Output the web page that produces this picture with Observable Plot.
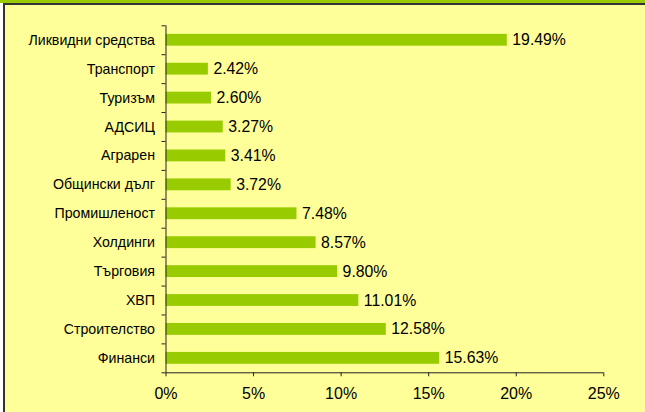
<!DOCTYPE html>
<html>
<head>
<meta charset="utf-8">
<script src="https://cdn.jsdelivr.net/npm/d3@7"></script>
<script src="https://cdn.jsdelivr.net/npm/@observablehq/plot@0.6"></script>
<style>
  html, body { margin: 0; padding: 0; background: #fff; }
  #wrap { position: relative; width: 645px; height: 412px; background: #FFFF99; overflow: hidden; font-family: "Liberation Sans", Arial, sans-serif; }
  #band { position: absolute; left: 0; top: 0; width: 645px; height: 3px; background: #99CC00; }
  #lstrip { position: absolute; left: 0; top: 3px; width: 3px; height: 409px; background: #fff; }
  #btop { position: absolute; left: 3px; top: 3px; width: 642px; height: 1.5px; background: #333; }
  #bleft { position: absolute; left: 3px; top: 3px; width: 1.5px; height: 409px; background: #333; }
  #chart { position: absolute; left: 0; top: 0; }
  #chart svg { background: transparent; }
</style>
</head>
<body>
<div id="wrap">
  <div id="band"></div><div id="lstrip"></div><div id="btop"></div><div id="bleft"></div>
  <div id="chart"></div>
</div>
<script>
const categories = ["Ликвидни средства", "Транспорт", "Туризъм", "АДСИЦ", "Аграрен", "Общински дълг", "Промишленост", "Холдинги", "Търговия", "ХВП", "Строителство", "Финанси"];
const values = [19.49, 2.42, 2.60, 3.27, 3.41, 3.72, 7.48, 8.57, 9.80, 11.01, 12.58, 15.63];
const xTicks = [0, 5, 10, 15, 20, 25];

const data = categories.map((c, i) => ({cat: c, v: values[i], i}));
const n = categories.length;
const half = 0.205;

const chart = Plot.plot({
  width: 645,
  height: 412,
  marginLeft: 165.5,
  marginRight: 41.7,
  marginTop: 25.3,
  marginBottom: 39.7,
  style: {background: "transparent", fontFamily: "'Liberation Sans', Arial, sans-serif", fontSize: "15px", color: "#000"},
  x: {domain: [0, 25], label: null},
  y: {domain: [n - 0.5, -0.5], label: null},
  marks: [
    Plot.rect(data, {x1: 0, x2: "v", y1: d => d.i - half, y2: d => d.i + half, fill: "#99CC00"}),
    Plot.text(data, {x: "v", y: "i", text: d => d.v.toFixed(2) + "%", dx: 5, textAnchor: "start", fontSize: 15.8, fill: "#000"}),
    Plot.axisY({ticks: d3.range(n), tickFormat: i => categories[i], tickSize: 0, tickPadding: 11, fontSize: 14.2, fill: "#000", label: null}),
    Plot.axisY({ticks: d3.range(n + 1).map(i => i - 0.5), tickFormat: () => "", tickSize: 4, stroke: "#222", strokeOpacity: 1, label: null}),
    Plot.axisX({ticks: xTicks, tickFormat: d => d + "%", tickSize: 4, tickPadding: 11, fontSize: 16, fill: "#000", stroke: "#222", strokeOpacity: 1, label: null}),
    Plot.ruleX([0], {y1: -0.5, y2: n - 0.5, stroke: "#222"}),
    Plot.ruleY([n - 0.5], {x1: 0, x2: 25, stroke: "#222"})
  ]
});
document.getElementById("chart").appendChild(chart);
</script>
</body>
</html>
